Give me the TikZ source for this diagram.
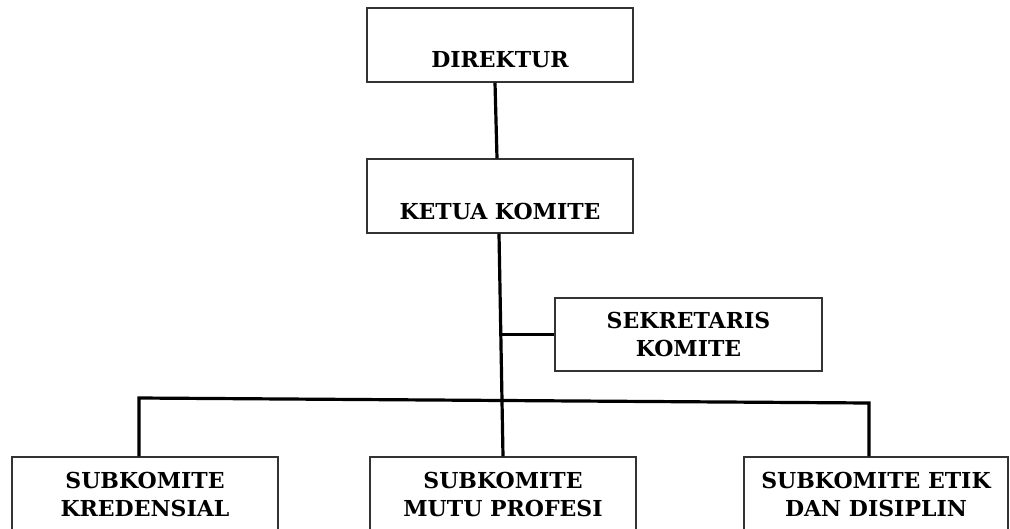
\documentclass[tikz,border=0pt]{standalone}
\usepackage{fontspec}
\setmainfont{DejaVu Serif}
\usetikzlibrary{calc}
\begin{document}
\begin{tikzpicture}[x=1pt,y=-1pt,
  box/.style={draw=black!80,line width=1.2pt,rectangle,inner sep=0pt},
  lbl/.style={font=\bfseries\fontsize{22}{28}\selectfont,align=center,inner sep=0pt},
  conn/.style={draw=black,line width=3.2pt}]
\useasboundingbox (0,0) rectangle (1010,528);
\clip (0,0) rectangle (1010,528);
% boxes
\node[box,minimum width=266pt,minimum height=74pt] (dir) at (500,45) {};
\node[lbl] (dirt) at (500,60) {DIREKTUR};
\node[box,minimum width=266pt,minimum height=74pt] (ketua) at (500,196) {};
\node[lbl] (ketuat) at (500,211) {KETUA KOMITE};
\node[box,minimum width=267pt,minimum height=73pt] (sek) at (688.5,334.5) {};
\node[lbl] (sekt) at (688.5,334) {SEKRETARIS\\KOMITE};
\node[box,minimum width=266pt,minimum height=100pt] (kred) at (145,507) {};
\node[lbl] (kredt) at (145,494) {SUBKOMITE\\KREDENSIAL};
\node[box,minimum width=266pt,minimum height=100pt] (mutu) at (503,507) {};
\node[lbl] (mutut) at (503,494) {SUBKOMITE\\MUTU PROFESI};
\node[box,minimum width=264pt,minimum height=100pt] (etik) at (876,507) {};
\node[lbl] (etikt) at (876,494) {SUBKOMITE ETIK\\DAN DISIPLIN};
% connectors
\coordinate (hl) at (139,398);
\coordinate (hr) at (869,403);
\draw[conn] ([xshift=-5pt]dir.south) -- ([xshift=-3pt]ketua.north);
\draw[conn] ([xshift=-1pt]ketua.south) -- (mutu.north);
\draw[conn] (sek.west) -- ++(-52,0);
\draw[conn,line join=miter] (hl |- kred.north) -- (hl) -- (hr) -- (hr |- etik.north);
\end{tikzpicture}
\end{document}
